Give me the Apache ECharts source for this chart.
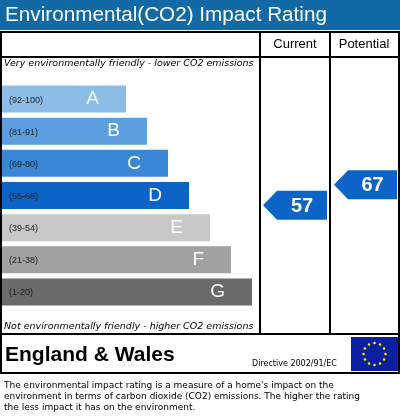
<!DOCTYPE html><html><head><meta charset="utf-8"><script src="https://cdn.jsdelivr.net/npm/echarts@6/dist/echarts.min.js"></script>
<style>html,body{margin:0;padding:0;background:#fff}#c{width:400px;height:419px}</style></head><body><div id="c"></div><script>
const bands=['A','B','C','D','E','F','G'];
const ranges=['(92-100)','(81-91)','(69-80)','(55-68)','(39-54)','(21-38)','(1-20)'];
const barLength=[124,145,166,187,208,229,250];
const bandColors=['#8cbde9','#5b9fe0','#3a87d8','#0b64c6','#c8c8c8','#a1a1a1','#6a6a6a'];
const currentRating=[57];
const potentialRating=[67];
const ch=echarts.init(document.getElementById('c'));
const arrow=(x0,w,color)=>function(params,api){
  const y=api.coord([0,api.value(0)])[1];
  const h=29, tip=14;
  return {type:'group',children:[
    {type:'polygon',shape:{points:[[x0,y],[x0+tip,y-h/2],[x0+w,y-h/2],[x0+w,y+h/2],[x0+tip,y+h/2]]},style:{fill:color}},
    {type:'text',style:{text:String(api.value(0)),x:x0+tip+(w-tip)/2,y:y+1,align:'center',verticalAlign:'middle',fill:'#fff',font:'bold 20px Arial, "Liberation Sans", sans-serif'}}
  ]};
};
const F='"Liberation Sans", Arial, sans-serif';
ch.setOption({animation:false,
 grid:[{left:2,top:83,width:258,height:225},{left:260,top:117,width:140,height:205}],
 xAxis:[{gridIndex:0,type:'value',min:0,max:258,show:false},{gridIndex:1,type:'value',min:0,max:1,show:false}],
 yAxis:[{gridIndex:0,type:'category',data:bands,inverse:true,show:false},{gridIndex:1,type:'value',min:0,max:100,show:false}],
 graphic:[
  {type:'rect',shape:{x:0,y:0,width:400,height:30},style:{fill:'#1169a6'}},
  {type:'text',style:{text:'Environmental(CO2) Impact Rating',x:5,y:15,verticalAlign:'middle',fill:'#fff',font:'20.7px '+F}},
  {type:'rect',shape:{x:1,y:32,width:398,height:341},style:{fill:'none',stroke:'#000',lineWidth:2}},
  {type:'line',shape:{x1:1,y1:57,x2:399,y2:57},style:{stroke:'#000',lineWidth:2}},
  {type:'line',shape:{x1:260,y1:32,x2:260,y2:334},style:{stroke:'#000',lineWidth:2}},
  {type:'line',shape:{x1:330,y1:32,x2:330,y2:334},style:{stroke:'#000',lineWidth:2}},
  {type:'line',shape:{x1:1,y1:334,x2:399,y2:334},style:{stroke:'#000',lineWidth:2}},
  {type:'text',style:{text:'Current',x:295,y:44,align:'center',verticalAlign:'middle',fill:'#000',font:'13px '+F}},
  {type:'text',style:{text:'Potential',x:364,y:44,align:'center',verticalAlign:'middle',fill:'#000',font:'13px '+F}},
  {type:'text',style:{text:'Very environmentally friendly - lower CO2 emissions',x:4,y:64,verticalAlign:'middle',fill:'#000',font:'italic 9.5px "DejaVu Sans", sans-serif'}},
  {type:'text',style:{text:'Not environmentally friendly - higher CO2 emissions',x:4,y:327,verticalAlign:'middle',fill:'#000',font:'italic 9.5px "DejaVu Sans", sans-serif'}},
  {type:'text',style:{text:'England & Wales',x:5,y:355,verticalAlign:'middle',fill:'#000',font:'bold 21px '+F}},
  {type:'text',style:{text:'Directive 2002/91/EC',x:252,y:364,verticalAlign:'middle',fill:'#000',font:'8px "DejaVu Sans", sans-serif'}},
  {type:'rect',shape:{x:351,y:337,width:47,height:34},style:{fill:'#0b1fa0'}},
  ...Array.from({length:12},(_,i)=>({type:'circle',shape:{cx:374.5+11*Math.sin(i*Math.PI/6),cy:354-11*Math.cos(i*Math.PI/6),r:1.3},style:{fill:'#ffe600'}})),
  {type:'text',style:{text:"The environmental impact rating is a measure of a home's impact on the\nenvironment in terms of carbon dioxide (CO2) emissions. The higher the rating\nthe less impact it has on the environment.",x:4,y:380,lineHeight:11,fill:'#000',font:'9px "DejaVu Sans", sans-serif'}}
 ],
 series:[
  {type:'bar',xAxisIndex:0,yAxisIndex:0,barWidth:27,data:barLength.map((v,i)=>({value:v,itemStyle:{color:bandColors[i]}})),
   label:{show:true,position:'insideLeft',offset:[2,1],formatter:p=>ranges[p.dataIndex],color:'#222',fontSize:9,fontFamily:'Arial'}},
  {type:'bar',xAxisIndex:0,yAxisIndex:0,barWidth:27,barGap:'-100%',data:barLength,itemStyle:{color:'rgba(0,0,0,0)'},
   label:{show:true,position:'insideRight',offset:[-22,0],formatter:p=>bands[p.dataIndex],color:'#fff',fontSize:19,fontFamily:F}},
  {type:'custom',xAxisIndex:1,yAxisIndex:1,data:currentRating.map(v=>[v]),encode:{y:0},renderItem:arrow(263,64,'#0b64c6')},
  {type:'custom',xAxisIndex:1,yAxisIndex:1,data:potentialRating.map(v=>[v]),encode:{y:0},renderItem:arrow(334,63,'#0b64c6')}
 ]});
</script></body></html>
